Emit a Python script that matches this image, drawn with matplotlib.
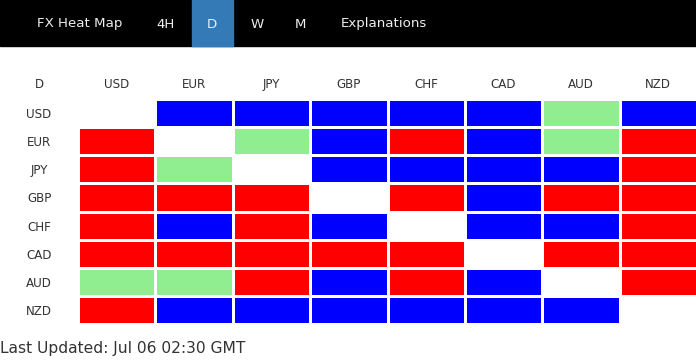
import matplotlib.pyplot as plt
import numpy as np
from matplotlib.colors import ListedColormap
from matplotlib.patches import Rectangle

plt.rcParams["font.family"] = ["DejaVu Sans"]

# ---- data ----
currencies = ["USD", "EUR", "JPY", "GBP", "CHF", "CAD", "AUD", "NZD"]
# B = blue (strong), R = red (weak), G = light green, - = diagonal
row_usd = ["-", "B", "B", "B", "B", "B", "G", "B"]
row_eur = ["R", "-", "G", "B", "R", "B", "G", "R"]
row_jpy = ["R", "G", "-", "B", "B", "B", "B", "R"]
row_gbp = ["R", "R", "R", "-", "R", "B", "R", "R"]
row_chf = ["R", "B", "R", "B", "-", "B", "B", "R"]
row_cad = ["R", "R", "R", "R", "R", "-", "R", "R"]
row_aud = ["G", "G", "R", "B", "R", "B", "-", "R"]
row_nzd = ["R", "B", "B", "B", "B", "B", "B", "-"]
rows = [row_usd, row_eur, row_jpy, row_gbp, row_chf, row_cad, row_aud, row_nzd]

tabs = ["FX Heat Map", "4H", "D", "W", "M", "Explanations"]
active_tab = "D"
updated = "Last Updated: Jul 06 02:30 GMT"

code = {"-": 0, "R": 1, "G": 2, "B": 3}
cmap = ListedColormap(["#ffffff", "#ff0000", "#90ee90", "#0000ff"])
grid = np.array([[code[c] for c in r] for r in rows])

W, H = 696, 360
fig = plt.figure(figsize=(W / 100, H / 100), dpi=100)

# background axes in pixel coordinates
bg = fig.add_axes([0, 0, 1, 1])
bg.set_xlim(0, W)
bg.set_ylim(H, 0)
bg.axis("off")

# nav bar
bg.add_patch(Rectangle((0, 0), W, 46, color="black", zorder=0))
tab_x = [79.5, 166, 212, 257, 301, 383.5]
for t, x in zip(tabs, tab_x):
    if t == active_tab:
        bg.add_patch(Rectangle((192, 0), 41, 46, color="#337ab7", zorder=1))
    bg.text(x, 24, t, ha="center", va="center", color="#eeeeee",
            fontsize=9.6, zorder=2)

bg.text(39, 85, "D", ha="center", va="center", color="#333333", fontsize=8.6)
bg.text(0, 349, updated, ha="left", va="center", color="#333333", fontsize=11.2)

# heat map axes: x 78..697, y 99..324 px
ax = fig.add_axes([78 / W, 1 - 324 / H, 619 / W, 225 / H])
ax.pcolormesh(grid, cmap=cmap, vmin=-0.5, vmax=3.5,
              edgecolors="white", linewidth=1.0)
ax.set_xlim(0, 8)
ax.set_ylim(8, 0)
ax.set_xticks(np.arange(8) + 0.5)
ax.set_xticklabels(currencies, fontsize=8.6, color="#333333")
ax.set_yticks(np.arange(8) + 0.5)
ax.set_yticklabels(currencies, fontsize=8.6, color="#333333", ha="center")
ax.xaxis.tick_top()
ax.tick_params(axis="x", length=0, pad=6)
ax.tick_params(axis="y", length=0, pad=28)
for s in ax.spines.values():
    s.set_visible(False)

fig.savefig("out.png", dpi=100, facecolor="white")
